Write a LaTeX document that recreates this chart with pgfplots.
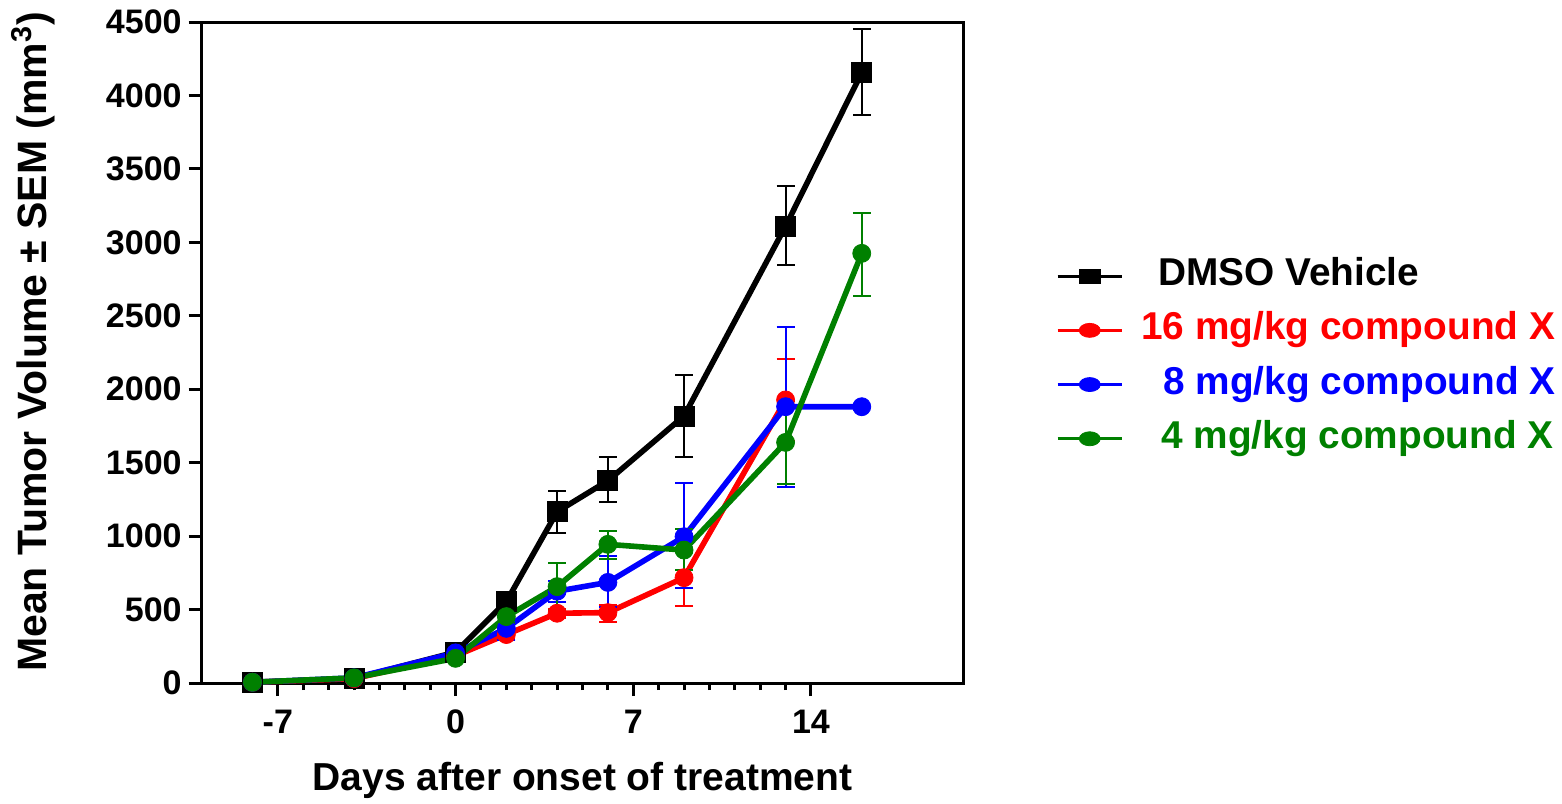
\documentclass[border=0pt]{standalone}
\usepackage{fontspec}
\setmainfont{Liberation Sans}
\usepackage{pgfplots}
\usepackage{pgfplotstable}
\pgfplotsset{compat=1.18}

\definecolor{cred}{RGB}{255,0,0}
\definecolor{cblue}{RGB}{0,0,255}
\definecolor{cgreen}{RGB}{0,128,0}

% day, mean, +err, -err
\pgfplotstableread{
x y ep em
-8 5 8 8
-4 30 10 10
0 210 20 20
2 554 56 50
4 1166 141 143
6 1377 159 147
9 1818 282 282
13 3110 274 264
16 4155 295 288
}\dmso
\pgfplotstableread{
x y ep em
-8 5 5 5
-4 30 8 8
0 185 20 20
2 330 30 30
4 475 30 30
6 479 52 61
9 717 193 193
13 1927 277 277
}\sixteen
\pgfplotstableread{
x y ep em
-8 5 5 5
-4 35 8 8
0 205 20 20
2 372 80 80
4 625 72 72
6 685 179 165
9 996 368 347
13 1881 540 544
16 1881 0 0
}\eight
\pgfplotstableread{
x y ep em
-8 5 5 5
-4 35 8 8
0 168 20 20
2 452 45 45
4 656 159 159
6 944 91 102
9 905 141 136
13 1638 282 285
16 2925 277 288
}\four

\begin{document}
\begin{tikzpicture}
\begin{axis}[
  scale only axis,
  width=380.8pt, height=330.5pt,
  xmin=-10, xmax=20, ymin=0, ymax=4500,
  clip=false,
  xtick={-7,0,7,14},
  minor x tick num=6,
  ytick={0,500,...,4500},
  tick pos=left,
  tick align=outside,
  major tick length=6.5pt,
  minor tick length=3.5pt,
  axis line style={line width=1.5pt},
  every tick/.style={line width=1.5pt, black},
  /pgf/number format/assume math mode=true,
  /pgf/number format/set thousands separator={},
  tick label style={font=\fontsize{17}{20}\selectfont\bfseries},
  xticklabel style={yshift=-3.5pt},
  xlabel={Days after onset of treatment},
  ylabel={Mean Tumor Volume ± SEM (mm\textsuperscript{3})},
  every axis x label/.style={at={(axis description cs:0.5,-0.1467)}, anchor=center,
    font=\fontsize{19.5}{23}\selectfont\bfseries},
  every axis y label/.style={at={(axis description cs:-0.2210,0.516)}, anchor=center, rotate=90,
    font=\fontsize{20.5}{24}\selectfont\bfseries},
  legend style={at={(axis description cs:1.1215,0.4925)}, anchor=west, draw=none, fill=none,
    inner sep=0pt, font=\fontsize{19.4}{23}\selectfont\bfseries,
    nodes={inner sep=0pt, text height=14pt, text depth=4.5pt},
    row sep=8.6pt,
    /tikz/every odd column/.append style={column sep=9pt}},
  legend cell align=left,
  legend image code/.code={
    \draw[mark repeat=2, mark phase=2, #1, line width=1.5pt, mark size=3.5pt,
      every mark/.append style={xscale=1.5}]
      plot coordinates {(0pt,0pt) (16pt,0pt) (32pt,0pt)};
  },
  error bars/y dir=both,
  error bars/y explicit,
  error bars/error bar style={line width=1pt, solid},
  error bars/error mark options={rotate=90, mark size=4.5pt, line width=1pt},
]
\addplot[black, line width=2.8pt, mark=square*, mark size=5pt,
  mark options={solid, line width=0.4pt}]
  table[x=x, y=y, y error plus=ep, y error minus=em] {\dmso};
\addlegendentry{\hspace{8.5pt}DMSO Vehicle}
\addplot[cred, line width=2.8pt, mark=*, mark size=4.5pt,
  mark options={solid, line width=0.4pt}]
  table[x=x, y=y, y error plus=ep, y error minus=em] {\sixteen};
\addlegendentry{\textcolor{cred}{16 mg/kg compound X}}
\addplot[cblue, line width=2.8pt, mark=*, mark size=4.5pt,
  mark options={solid, line width=0.4pt}]
  table[x=x, y=y, y error plus=ep, y error minus=em] {\eight};
\addlegendentry{\hspace{11pt}\textcolor{cblue}{8 mg/kg compound X}}
\addplot[cgreen, line width=2.8pt, mark=*, mark size=4.5pt,
  mark options={solid, line width=0.4pt}]
  table[x=x, y=y, y error plus=ep, y error minus=em] {\four};
\addlegendentry{\hspace{10pt}\textcolor{cgreen}{4 mg/kg compound X}}
\end{axis}
\pgfresetboundingbox
\path[use as bounding box] (-100.85pt,-60pt) rectangle (680.15pt,341.5pt);
\end{tikzpicture}
\end{document}
